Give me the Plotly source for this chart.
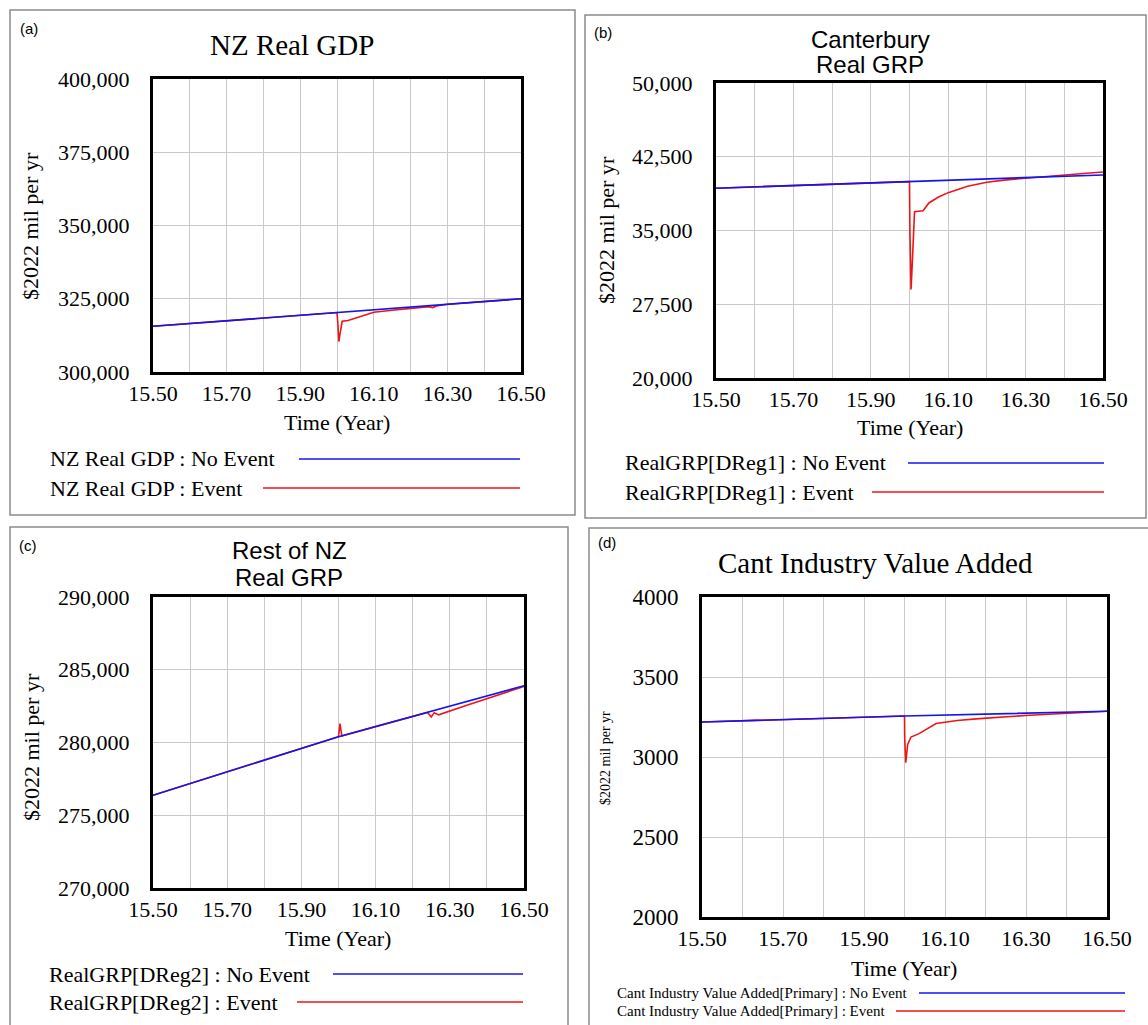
import plotly.graph_objects as go

W, H = 1148, 1025
SERIF = "Liberation Serif"
SANS = "Liberation Sans"
BLUE = "#1414f0"
RED = "#ee1515"

# ---- shared time axis ----
x_tick_vals = [15.5, 15.6, 15.7, 15.8, 15.9, 16.0, 16.1, 16.2, 16.3, 16.4, 16.5]
x_tick_text = ["15.50", "", "15.70", "", "15.90", "", "16.10", "", "16.30", "", "16.50"]

# ---- (a) NZ Real GDP ----
gdp_t_base = [15.5, 16.0, 16.5]
gdp_base = [315600, 320300, 325000]
gdp_t_event = [15.5, 16.0, 16.002, 16.005, 16.009, 16.014, 16.03, 16.06, 16.1,
               16.15, 16.2, 16.25, 16.26, 16.27, 16.3, 16.4, 16.5]
gdp_event = [315600, 320300, 317000, 310400, 313500, 317300, 317600, 318900, 320400,
             321100, 321800, 322300, 322000, 322500, 323100, 324050, 325000]
gdp_y_ticks = [300000, 325000, 350000, 375000, 400000]

# ---- (b) Canterbury Real GRP ----
cant_t_base = [15.5, 16.0, 16.5]
cant_base = [39300, 39970, 40650]
cant_t_event = [15.5, 16.0, 16.001, 16.004, 16.007, 16.010, 16.013, 16.035, 16.05,
                16.075, 16.1, 16.15, 16.2, 16.25, 16.3, 16.4, 16.45, 16.5]
cant_event = [39300, 39970, 35000, 29000, 31500, 35000, 36900, 37000, 37800,
              38400, 38850, 39500, 39900, 40150, 40330, 40620, 40800, 40950]
cant_y_ticks = [20000, 27500, 35000, 42500, 50000]

# ---- (c) Rest of NZ Real GRP ----
rest_t_base = [15.5, 15.9, 16.0, 16.5]
rest_base = [276370, 279580, 280400, 283900]
rest_t_event = [15.5, 15.9, 16.0, 16.004, 16.009, 16.1, 16.24, 16.25, 16.258,
                16.27, 16.35, 16.5]
rest_event = [276370, 279580, 280400, 281300, 280450, 281090, 282060, 281750, 282050,
              281900, 282600, 283850]
rest_y_ticks = [270000, 275000, 280000, 285000, 290000]

# ---- (d) Cant Industry Value Added ----
ind_t_base = [15.5, 16.0, 16.5]
ind_base = [3219, 3256, 3286]
ind_t_event = [15.5, 16.0, 16.0005, 16.003, 16.008, 16.016, 16.036, 16.078, 16.13,
               16.185, 16.308, 16.415, 16.5]
ind_event = [3219, 3256, 3120, 2965, 3080, 3125, 3146, 3209, 3228,
             3240, 3261, 3275, 3286]
ind_y_ticks = [2000, 2500, 3000, 3500, 4000]


def px(x):
    return x / W


def py(y):
    return 1 - y / H


panels = [
    dict(ax="", letter="(a)", letter_xy=(29, 28),
         title=[("NZ Real GDP", SERIF, 29, 292, 45)],
         dom_x=(153, 521), dom_y=(79, 372), yrange=(300000, 400000), yticks=gdp_y_ticks,
         yfmt=",", tick_size=22,
         t_base=gdp_t_base, base=gdp_base, t_event=gdp_t_event, event=gdp_event,
         ytitle=("$2022 mil per yr", 22, 31, 226), xtitle=(337, 423),
         legend=[("NZ Real GDP : No Event", 22, 48, 459, 299, 520, BLUE),
                 ("NZ Real GDP : Event", 22, 48, 488, 263, 520, RED)],
         box=(10, 575, 10, 515)),
    dict(ax="2", letter="(b)", letter_xy=(603, 32),
         title=[("Canterbury", SANS, 24, 870, 39), ("Real GRP", SANS, 24, 870, 64)],
         dom_x=(716, 1103), dom_y=(83, 378), yrange=(20000, 50000), yticks=cant_y_ticks,
         yfmt=",", tick_size=22,
         t_base=cant_t_base, base=cant_base, t_event=cant_t_event, event=cant_event,
         ytitle=("$2022 mil per yr", 22, 607, 230), xtitle=(910, 428),
         legend=[("RealGRP[DReg1] : No Event", 22, 623, 463, 908, 1104, BLUE),
                 ("RealGRP[DReg1] : Event", 22, 623, 492, 872, 1104, RED)],
         box=(585, 1146, 15, 518)),
    dict(ax="3", letter="(c)", letter_xy=(28, 545),
         title=[("Rest of NZ", SANS, 24, 289, 550), ("Real GRP", SANS, 24, 289, 577)],
         dom_x=(153, 524), dom_y=(597, 888), yrange=(270000, 290000), yticks=rest_y_ticks,
         yfmt=",", tick_size=22,
         t_base=rest_t_base, base=rest_base, t_event=rest_t_event, event=rest_event,
         ytitle=("$2022 mil per yr", 22, 31, 747), xtitle=(338, 938),
         legend=[("RealGRP[DReg2] : No Event", 22, 47, 974, 333, 523, BLUE),
                 ("RealGRP[DReg2] : Event", 22, 47, 1002, 297, 523, RED)],
         box=(10, 568, 527, 1030)),
    dict(ax="4", letter="(d)", letter_xy=(607, 542),
         title=[("Cant Industry Value Added", SERIF, 29, 876, 563)],
         dom_x=(702, 1107), dom_y=(597, 917), yrange=(2000, 4000), yticks=ind_y_ticks,
         yfmt="d", tick_size=23,
         t_base=ind_t_base, base=ind_base, t_event=ind_t_event, event=ind_event,
         ytitle=("$2022 mil per yr", 14, 605, 758), xtitle=(904, 968),
         legend=[("Cant Industry Value Added[Primary] : No Event", 15, 615, 993, 919, 1125, BLUE),
                 ("Cant Industry Value Added[Primary] : Event", 15, 615, 1011, 896, 1125, RED)],
         box=(589, 1152, 528, 1030)),
]

fig = go.Figure()
annotations = []
shapes = []
layout = {}

for p in panels:
    ax = p["ax"]
    xa, ya = "x" + ax, "y" + ax
    # event run first so the baseline sits on top where both coincide
    fig.add_trace(go.Scatter(x=p["t_event"], y=p["event"], mode="lines",
                             line=dict(color=RED, width=1.6), xaxis=xa, yaxis=ya,
                             showlegend=False, hoverinfo="skip"))
    fig.add_trace(go.Scatter(x=p["t_base"], y=p["base"], mode="lines",
                             line=dict(color=BLUE, width=1.6), xaxis=xa, yaxis=ya,
                             showlegend=False, hoverinfo="skip"))

    x0, x1 = p["dom_x"]
    y0, y1 = p["dom_y"]
    layout["xaxis" + ax] = dict(
        domain=[px(x0), px(x1)], range=[15.5, 16.5], anchor=ya,
        tickvals=x_tick_vals, ticktext=x_tick_text, ticks="", ticklabelstandoff=0,
        showgrid=True, gridcolor="#c9c9c9", gridwidth=1, zeroline=False,
        showline=True, mirror=True, linecolor="black", linewidth=3,
        tickfont=dict(family=SERIF, size=22, color="black"), automargin=False,
    )
    layout["yaxis" + ax] = dict(
        domain=[py(y1), py(y0)], range=list(p["yrange"]), anchor=xa,
        tickvals=p["yticks"], tickformat=p["yfmt"], ticks="", ticklabelstandoff=16,
        showgrid=True, gridcolor="#c9c9c9", gridwidth=1, zeroline=False,
        showline=True, mirror=True, linecolor="black", linewidth=3,
        tickfont=dict(family=SERIF, size=p["tick_size"], color="black"), automargin=False,
    )

    # panel frame
    bx0, bx1, by0, by1 = p["box"]
    shapes.append(dict(type="rect", xref="paper", yref="paper",
                       x0=px(bx0), x1=px(bx1), y0=py(by1), y1=py(by0),
                       line=dict(color="#8c8c8c", width=1.5), layer="below"))

    # panel letter
    lx, ly = p["letter_xy"]
    annotations.append(dict(text=p["letter"], x=px(lx), y=py(ly), xref="paper", yref="paper",
                            showarrow=False, xanchor="center", yanchor="middle",
                            font=dict(family=SANS, size=15, color="black")))
    # title lines
    for txt, fam, size, tx, ty in p["title"]:
        annotations.append(dict(text=txt, x=px(tx), y=py(ty), xref="paper", yref="paper",
                                showarrow=False, xanchor="center", yanchor="middle",
                                font=dict(family=fam, size=size, color="black")))
    # axis titles
    yt, ysz, ytx, yty = p["ytitle"]
    annotations.append(dict(text=yt, x=px(ytx), y=py(yty), xref="paper", yref="paper",
                            showarrow=False, textangle=-90, xanchor="center", yanchor="middle",
                            font=dict(family=SERIF, size=ysz, color="black")))
    xtx, xty = p["xtitle"]
    annotations.append(dict(text="Time (Year)", x=px(xtx), y=py(xty), xref="paper", yref="paper",
                            showarrow=False, xanchor="center", yanchor="middle",
                            font=dict(family=SERIF, size=22, color="black")))
    # run key: label followed by a sample line
    for txt, size, tx, ty, l0, l1, col in p["legend"]:
        annotations.append(dict(text=txt, x=px(tx), y=py(ty), xref="paper", yref="paper",
                                showarrow=False, xanchor="left", yanchor="middle",
                                font=dict(family=SERIF, size=size, color="black")))
        shapes.append(dict(type="line", xref="paper", yref="paper",
                           x0=px(l0), x1=px(l1), y0=py(ty), y1=py(ty),
                           line=dict(color=col, width=1.6)))

fig.update_layout(
    width=W, height=H, margin=dict(l=0, r=0, t=0, b=0),
    paper_bgcolor="white", plot_bgcolor="white",
    annotations=annotations, shapes=shapes, showlegend=False,
    **layout,
)

fig.write_html("out.html")
